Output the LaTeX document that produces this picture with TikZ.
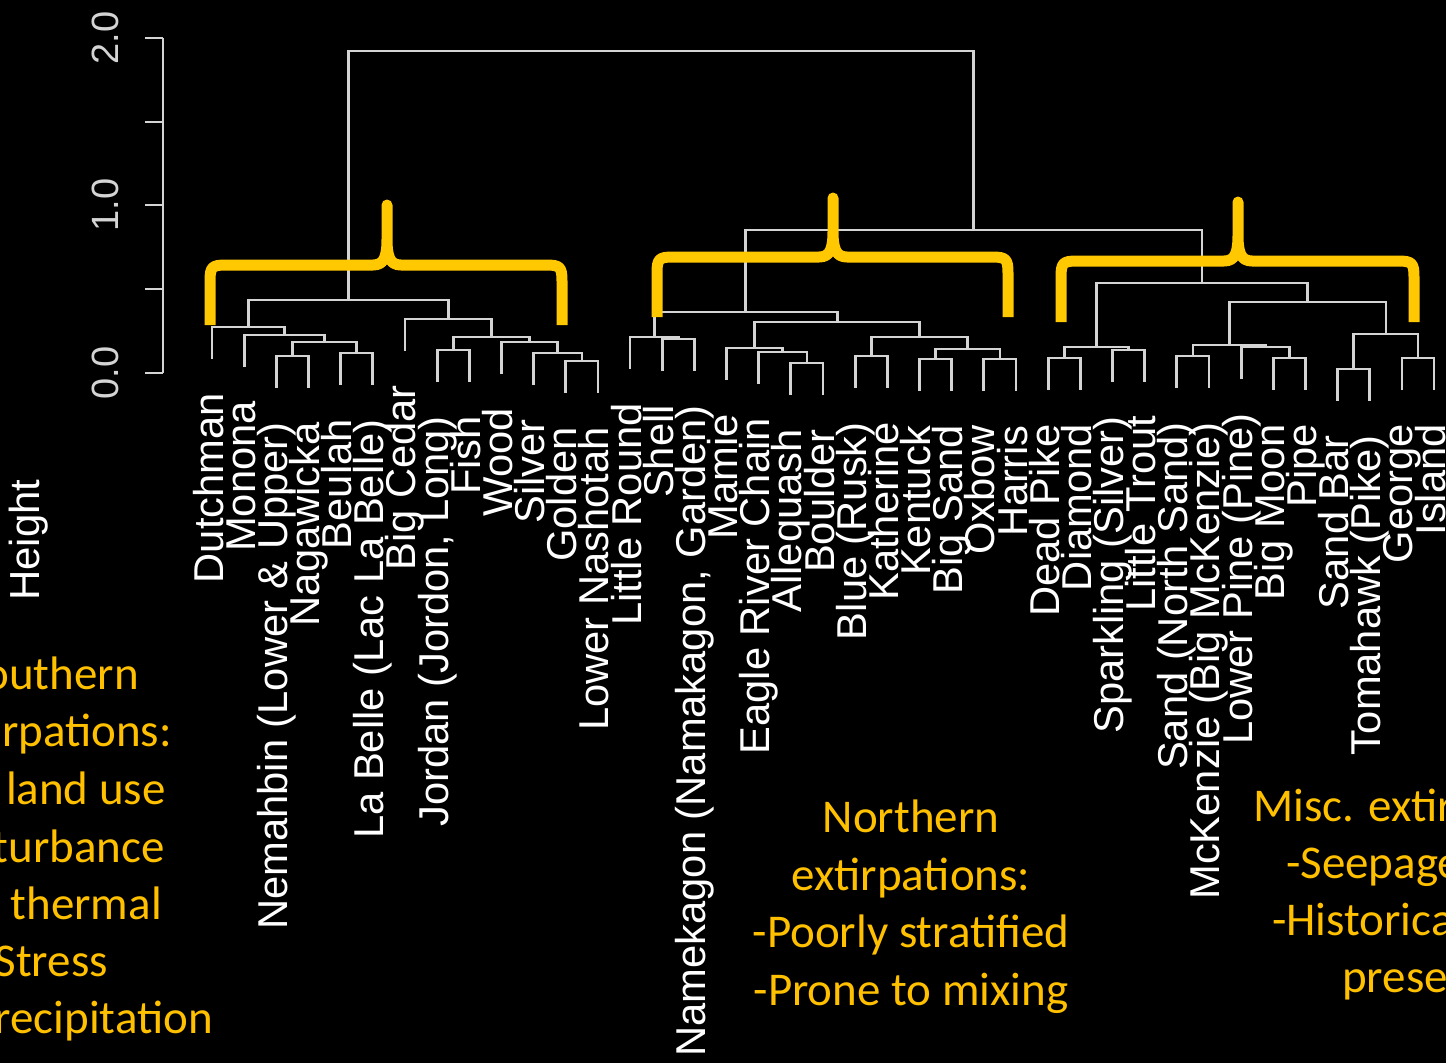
\documentclass[tikz,border=0pt]{standalone}
\usepackage{fontspec}
\setmainfont{Liberation Sans}
\newfontfamily\slidefont{Carlito}
\usepackage{tikz}
\usetikzlibrary{positioning}

\definecolor{slidegold}{RGB}{255,192,0}
\definecolor{bracegold}{RGB}{255,200,0}
\definecolor{treegray}{RGB}{212,212,212}

\tikzset{
  treeline/.style={draw=treegray, line width=2.8pt},
  bracestroke/.style={draw=bracegold, line width=11pt, line join=round},
  leaflabel/.style={rotate=90, anchor=east, inner sep=0pt, text=white,
    font=\fontsize{41.7}{50}\selectfont, text height=31pt, text depth=9pt},
  ticklabel/.style={rotate=90, inner sep=0pt, text=treegray,
    font=\fontsize{38}{44}\selectfont},
  notetext/.style={inner sep=0pt, text=slidegold,
    font=\slidefont\fontsize{47}{57.5}\selectfont}
}

\begin{document}
\begin{tikzpicture}[x=1pt,y=-1pt]
    \useasboundingbox (0,0) rectangle (1446,1063);
    \fill[black] (0,0) rectangle (1446,1063);

    % axis
    \coordinate (ax-top) at (163,38);
    \coordinate (ax-bot) at (163,373);
    \draw[treeline] (ax-top) -- (ax-bot);
    \foreach \y in {38,122,205,289,373}
      \draw[treeline] (145,\y) -- (163,\y);
    \node[ticklabel] (tick0) at (105,373) {0.0};
    \node[ticklabel] (tick1) at (105,205) {1.0};
    \node[ticklabel] (tick2) at (105,38) {2.0};
    \node[ticklabel, text=white, font=\fontsize{42}{50}\selectfont] (ylabel) at (29,540) {Height};

    % leaves
    \foreach \i/\lab/\bot in {1/Dutchman/359, 2/Monona/367,
      3/{Nemahbin (Lower \& Upper)}/388, 4/Nagawicka/388, 5/Beulah/385,
      6/{La Belle (Lac La Belle)}/385, 7/Big Cedar/351,
      8/{Jordan (Jordon, Long)}/382, 9/Fish/382, 10/Wood/374, 11/Silver/385,
      12/Golden/393, 13/Lower Nashotah/393, 14/Little Round/369, 15/Shell/371,
      16/{Namekagon (Namakagon, Garden)}/371, 17/Mamie/380,
      18/Eagle River Chain/384, 19/Allequash/395, 20/Boulder/395,
      21/Blue (Rusk)/388, 22/Katherine/388, 23/Kentuck/391, 24/Big Sand/391,
      25/Oxbow/391, 26/Harris/391, 27/Dead Pike/390, 28/Diamond/390,
      29/Sparkling (Silver)/382, 30/Little Trout/382, 31/Sand (North Sand)/388,
      32/McKenzie (Big McKenzie)/388, 33/Lower Pine (Pine)/379, 34/Big Moon/390,
      35/Pipe/390, 36/Sand Bar/401, 37/Tomahawk (Pike)/401, 38/George/390,
      39/Island/390}
    {
      \pgfmathsetmacro\lx{212+(\i-1)*32.16}
      \coordinate (l\i) at (\lx,\bot);
      \node[leaflabel] (lab\i) at (\lx,\bot+34) {\lab};
    }

    % merges
    \coordinate (a1) at (292.4,356);
    \coordinate (a2) at (356.7,353);
    \coordinate (a3) at (324.6,342);
    \coordinate (a4) at (284.4,335);
    \coordinate (a5) at (248.2,327);
    \coordinate (b1) at (453.2,350);
    \coordinate (b2) at (581.9,361);
    \coordinate (b3) at (557.7,353);
    \coordinate (b4) at (529.6,342);
    \coordinate (b5) at (491.4,337);
    \coordinate (b6) at (448.2,319);
    \coordinate (south) at (348.2,300);
    \coordinate (c1) at (678.3,339);
    \coordinate (c2) at (654.2,337);
    \coordinate (d1) at (807,363);
    \coordinate (d2) at (782.8,352);
    \coordinate (d3) at (754.7,348);
    \coordinate (e1) at (871.3,356);
    \coordinate (e2) at (935.6,359);
    \coordinate (e3) at (999.9,359);
    \coordinate (e4) at (967.8,349);
    \coordinate (e5) at (919.5,337);
    \coordinate (d4) at (837.1,322);
    \coordinate (north) at (745.7,312);
    \coordinate (f1) at (1064.3,358);
    \coordinate (f2) at (1128.6,350);
    \coordinate (f3) at (1096.4,347);
    \coordinate (g1) at (1192.9,356);
    \coordinate (g2) at (1289.4,358);
    \coordinate (g3) at (1265.2,347);
    \coordinate (g4) at (1229.1,345);
    \coordinate (h1) at (1353.7,369);
    \coordinate (h2) at (1418,358);
    \coordinate (h3) at (1385.9,334);
    \coordinate (g5) at (1307.5,302);
    \coordinate (misc) at (1201.9,283);
    \coordinate (nm) at (973.8,230);
    \coordinate (root) at (661.2,51);

    \foreach \p/\a/\b in {a1/l3/l4, a2/l5/l6, a3/a1/a2, a4/l2/a3, a5/l1/a4,
      b1/l8/l9, b2/l12/l13, b3/l11/b2, b4/l10/b3, b5/b1/b4, b6/l7/b5,
      south/a5/b6, c1/l15/l16, c2/l14/c1, d1/l19/l20, d2/l18/d1, d3/l17/d2,
      e1/l21/l22, e2/l23/l24, e3/l25/l26, e4/e2/e3, e5/e1/e4, d4/d3/e5,
      north/c2/d4, f1/l27/l28, f2/l29/l30, f3/f1/f2, g1/l31/l32, g2/l34/l35,
      g3/l33/g2, g4/g1/g3, h1/l36/l37, h2/l38/l39, h3/h1/h2, g5/g4/h3,
      misc/f3/g5, nm/north/misc, root/south/nm}
      \draw[treeline] (\a) |- (\p) -| (\b);

    % braces
    \foreach \xl/\xp/\xr/\yh/\yt/\yb in {210/387/562/265/205/325,
      657/833/1008/257/198/317, 1061/1238/1414/261/202/322}
      \draw[bracestroke] (\xl,\yb) -- (\xl,\yh+16)
        .. controls (\xl,\yh+2) and (\xl+2,\yh) .. (\xl+16,\yh)
        -- (\xp-14,\yh) .. controls (\xp-3,\yh) and (\xp,\yh-8) .. (\xp,\yh-26)
        -- (\xp,\yt) -- (\xp,\yh-26)
        .. controls (\xp,\yh-8) and (\xp+3,\yh) .. (\xp+14,\yh)
        -- (\xr-16,\yh) .. controls (\xr-2,\yh) and (\xr,\yh+2) .. (\xr,\yh+16)
        -- (\xr,\yb);

    % notes
    \foreach \n/\x/\y/\t in {1/139/689/outhern, 2/172/746/rpations:,
      3/166/804/land use, 4/165/862/turbance, 5/162/919/thermal,
      6/108/976/Stress, 7/213/1033/recipitation}
      \node[notetext, anchor=base east] (southnote\n) at (\x,\y) {\t};

    \node[notetext, align=center, anchor=base] (northnote) at (911,1005)
      {Northern\\extirpations:\\-Poorly stratified\\-Prone to mixing};

    \node[notetext, anchor=base west] (miscnote1) at (1253,821) {Misc. extir};
    \node[notetext, anchor=base west] (miscnote2) at (1286,878) {-Seepage};
    \node[notetext, anchor=base west] (miscnote3) at (1272,935) {-Historica};
    \node[notetext, anchor=base west] (miscnote4) at (1342,992) {prese};
\end{tikzpicture}
\end{document}
